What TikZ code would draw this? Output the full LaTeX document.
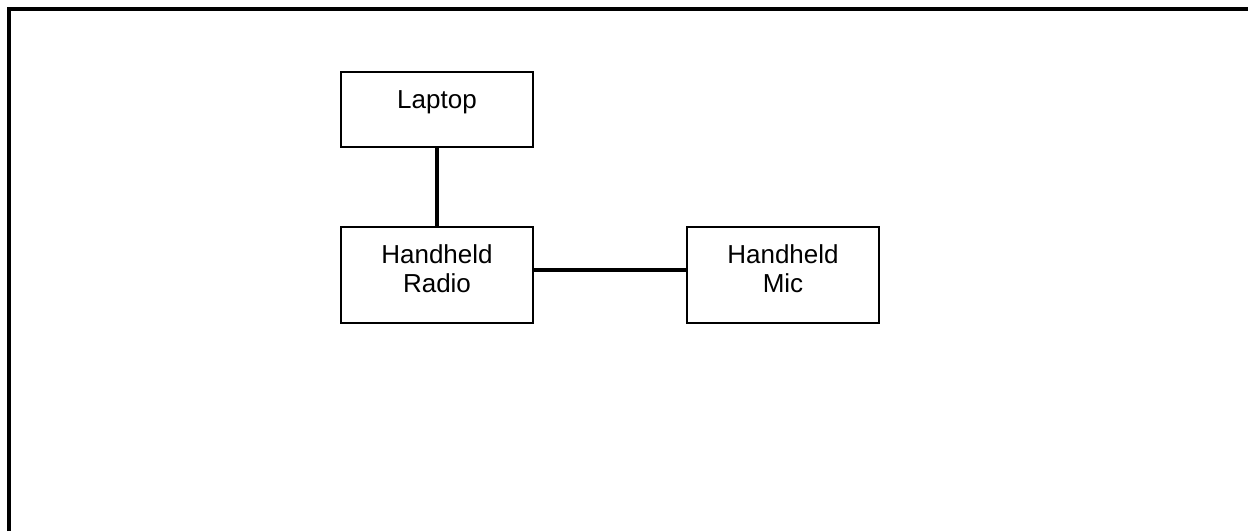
\documentclass[tikz,border=0pt]{standalone}
\usepackage{fontspec}
\setmainfont{Liberation Sans}
\begin{document}
\begin{tikzpicture}[x=0.5pt,y=-0.5pt,
  boxnode/.style={draw=black, line width=1pt, inner sep=0pt, minimum width=96pt},
  boxtext/.style={inner sep=0pt, anchor=north, align=center, font=\fontsize{13}{14.5}\selectfont},
  wire/.style={draw=black, line width=2pt}]
\useasboundingbox (0,0) rectangle (1248,531);
% frame (only top and left edges visible)
\coordinate (fbl) at (9,531);
\coordinate (ftl) at (9,9);
\coordinate (ftr) at (1248,9);
\draw[line width=2pt] (fbl) -- (ftl) -- (ftr);
% boxes
\node[boxnode, minimum height=37.5pt] (laptop) at (437,109.5) {};
\node[boxnode, minimum height=48pt] (radio) at (437,275) {};
\node[boxnode, minimum height=48pt] (mic) at (783,275) {};
% texts
\node[boxtext] (laptopT) at ([yshift=-9.5pt]laptop.north) {Laptop};
\node[boxtext] (radioT) at ([yshift=-9pt]radio.north) {Handheld\\Radio};
\node[boxtext] (micT) at ([yshift=-9pt]mic.north) {Handheld\\Mic};
% connectors
\draw[wire] (laptop.south) -- (radio.north);
\draw[wire] ([yshift=2.5pt]radio.east) -- ([yshift=2.5pt]mic.west);
\end{tikzpicture}
\end{document}
